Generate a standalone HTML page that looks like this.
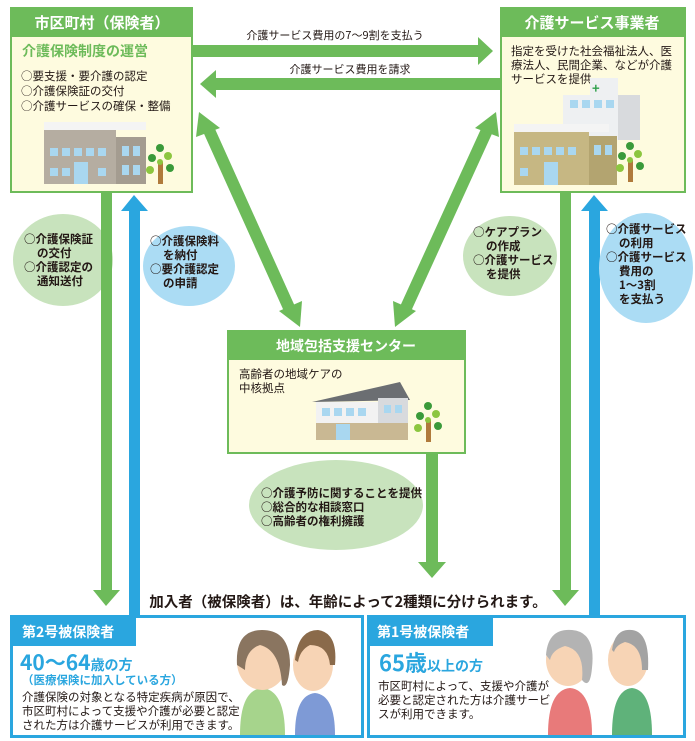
<!DOCTYPE html>
<html><head><meta charset="utf-8"><style>
html,body{margin:0;padding:0;background:#fff}
svg{display:block}
text{font-family:"Noto Sans CJK JP","Liberation Sans",sans-serif;fill:#231815}
.b{font-weight:bold}
</style></head><body>
<svg width="695" height="741" viewBox="0 0 695 741" xmlns="http://www.w3.org/2000/svg">
<defs>
<g id="tree">
<rect x="-2" y="0" width="5" height="22" fill="#b07a3c"/>
<circle cx="-8" cy="-4" r="4" fill="#3a9a3a"/><circle cx="8" cy="-6" r="4" fill="#8cc63f"/>
<circle cx="0" cy="-14" r="4" fill="#3a9a3a"/><circle cx="-10" cy="8" r="4" fill="#8cc63f"/>
<circle cx="10" cy="6" r="4" fill="#3a9a3a"/><circle cx="0" cy="0" r="3" fill="#8cc63f"/>
</g>
</defs>

<rect x="193" y="45" width="286" height="12" fill="#6dbb5a"/>
<polygon points="478,37 493,51 478,65" fill="#6dbb5a"/>
<rect x="215" y="78" width="286" height="12" fill="#6dbb5a"/>
<polygon points="216,70 200,84 216,98" fill="#6dbb5a"/>
<text x="335" y="39" font-size="11" text-anchor="middle">介護サービス費用の7～9割を支払う</text>
<text x="350" y="73" font-size="11" text-anchor="middle">介護サービス費用を請求</text>

<line x1="208" y1="128" x2="290" y2="310" stroke="#6dbb5a" stroke-width="12"/>
<polygon points="199,112 220,128 196,137" fill="#6dbb5a"/>
<polygon points="300,327 279,311 302,301" fill="#6dbb5a"/>
<line x1="488" y1="128" x2="405" y2="310" stroke="#6dbb5a" stroke-width="12"/>
<polygon points="496,112 499,137 475,128" fill="#6dbb5a"/>
<polygon points="395,327 393,301 416,311" fill="#6dbb5a"/>

<rect x="101" y="193" width="11" height="398" fill="#6dbb5a"/>
<polygon points="93,590 120,590 106,606" fill="#6dbb5a"/>
<rect x="129" y="210" width="11" height="408" fill="#2aa6df"/>
<polygon points="121,211 148,211 134,195" fill="#2aa6df"/>
<rect x="560" y="193" width="11" height="398" fill="#6dbb5a"/>
<polygon points="552,590 579,590 565,606" fill="#6dbb5a"/>
<rect x="589" y="210" width="11" height="408" fill="#2aa6df"/>
<polygon points="581,211 608,211 594,195" fill="#2aa6df"/>
<rect x="426" y="453" width="12" height="110" fill="#6dbb5a"/>
<polygon points="418,562 446,562 432,578" fill="#6dbb5a"/>

<ellipse cx="63" cy="260" rx="50" ry="46" fill="#c8e3bd"/>
<rect x="101" y="214" width="11" height="92" fill="#6dbb5a"/>
<text font-size="11.5" class="b"><tspan x="24" y="243">○介護保険証</tspan><tspan x="37" y="257">の交付</tspan><tspan x="24" y="271">○介護認定の</tspan><tspan x="37" y="285">通知送付</tspan></text>
<ellipse cx="189" cy="266" rx="46" ry="40" fill="#abdcf4"/>
<text font-size="11.5" class="b"><tspan x="150" y="245">○介護保険料</tspan><tspan x="163" y="259">を納付</tspan><tspan x="150" y="273">○要介護認定</tspan><tspan x="163" y="287">の申請</tspan></text>
<ellipse cx="510" cy="256" rx="47" ry="40" fill="#c8e3bd"/>
<text font-size="11.5" class="b"><tspan x="473" y="236">○ケアプラン</tspan><tspan x="486" y="250">の作成</tspan><tspan x="473" y="264">○介護サービス</tspan><tspan x="486" y="278">を提供</tspan></text>
<ellipse cx="646" cy="268" rx="47" ry="55" fill="#abdcf4"/>
<text font-size="11.5" class="b"><tspan x="606" y="233">○介護サービス</tspan><tspan x="619" y="247">の利用</tspan><tspan x="606" y="261">○介護サービス</tspan><tspan x="619" y="275">費用の</tspan><tspan x="619" y="289">1～3割</tspan><tspan x="619" y="303">を支払う</tspan></text>
<ellipse cx="336" cy="505" rx="87" ry="45" fill="#c8e3bd"/>
<rect x="426" y="470" width="12" height="70" fill="#6dbb5a"/>
<text font-size="11.5" class="b"><tspan x="261" y="497">○介護予防に関することを提供</tspan><tspan x="261" y="511">○総合的な相談窓口</tspan><tspan x="261" y="525">○高齢者の権利擁護</tspan></text>

<rect x="10" y="7" width="183" height="186" fill="#6dbb5a"/>
<rect x="12" y="37" width="179" height="154" fill="#fefbdf"/>
<text x="102" y="28" font-size="15" class="b" text-anchor="middle" style="fill:#fff">市区町村（保険者）</text>
<text x="22" y="56" font-size="14" class="b" style="fill:#6dbb5a">介護保険制度の運営</text>
<text font-size="11.5"><tspan x="21" y="80">○要支援・要介護の認定</tspan><tspan x="21" y="95">○介護保険証の交付</tspan><tspan x="21" y="110">○介護サービスの確保・整備</tspan></text>
<rect x="44" y="129" width="72" height="55" fill="#b5ada1"/>
<rect x="116" y="137" width="30" height="47" fill="#a49c90"/>
<rect x="44" y="122" width="102" height="8" fill="#f4f4f4"/>
<g fill="#a9d7f0"><rect x="50" y="148" width="8" height="8"/><rect x="62" y="148" width="8" height="8"/><rect x="74" y="148" width="8" height="8"/><rect x="86" y="148" width="8" height="8"/><rect x="98" y="148" width="8" height="8"/><rect x="50" y="168" width="8" height="8"/><rect x="62" y="168" width="8" height="8"/><rect x="98" y="168" width="8" height="8"/><rect x="74" y="162" width="14" height="22"/><rect x="122" y="146" width="7" height="10"/><rect x="133" y="146" width="7" height="10"/><rect x="122" y="165" width="7" height="10"/><rect x="133" y="165" width="7" height="10"/></g>
<use href="#tree" x="160" y="162"/>

<rect x="500" y="7" width="186" height="186" fill="#6dbb5a"/>
<rect x="502" y="37" width="182" height="154" fill="#fefbdf"/>
<text x="592" y="28" font-size="15" class="b" text-anchor="middle" style="fill:#fff">介護サービス事業者</text>
<text font-size="11.5"><tspan x="511" y="55">指定を受けた社会福祉法人、医</tspan><tspan x="511" y="69">療法人、民間企業、などが介護</tspan><tspan x="511" y="83">サービスを提供</tspan></text>
<rect x="563" y="95" width="55" height="45" fill="#eef0f2"/>
<rect x="618" y="95" width="22" height="45" fill="#d8dadd"/>
<rect x="590" y="78" width="28" height="18" fill="#eef0f2"/>
<text x="592" y="93" font-size="13" class="b" style="fill:#2ea04a">+</text>
<rect x="514" y="130" width="75" height="55" fill="#c6b783"/>
<rect x="589" y="136" width="28" height="49" fill="#b3a470"/>
<rect x="514" y="124" width="95" height="8" fill="#f4f4f4"/>
<g fill="#a9d7f0"><rect x="520" y="147" width="8" height="8"/><rect x="532" y="147" width="8" height="8"/><rect x="544" y="147" width="8" height="8"/><rect x="556" y="147" width="8" height="8"/><rect x="568" y="147" width="8" height="8"/><rect x="520" y="168" width="8" height="8"/><rect x="544" y="162" width="14" height="23"/><rect x="594" y="145" width="7" height="10"/><rect x="605" y="145" width="7" height="10"/><rect x="570" y="100" width="8" height="8"/><rect x="582" y="100" width="8" height="8"/><rect x="594" y="100" width="8" height="8"/><rect x="606" y="100" width="8" height="8"/></g>
<use href="#tree" x="630" y="160"/>

<rect x="227" y="330" width="239" height="124" fill="#6dbb5a"/>
<rect x="229" y="360" width="235" height="92" fill="#fefbdf"/>
<text x="346" y="351" font-size="14" class="b" text-anchor="middle" style="fill:#fff">地域包括支援センター</text>
<text font-size="11.5"><tspan x="239" y="378">高齢者の地域ケアの</tspan><tspan x="239" y="392">中核拠点</tspan></text>
<polygon points="312,402 400,382 410,400" fill="#6b6e72"/>
<rect x="316" y="402" width="62" height="38" fill="#f2f2f2"/>
<rect x="378" y="398" width="30" height="42" fill="#d8dadd"/>
<rect x="316" y="423" width="92" height="17" fill="#c9b893"/>
<g fill="#a9d7f0"><rect x="322" y="408" width="8" height="8"/><rect x="334" y="408" width="8" height="8"/><rect x="346" y="408" width="8" height="8"/><rect x="358" y="408" width="8" height="8"/><rect x="336" y="424" width="14" height="16"/><rect x="384" y="405" width="7" height="8"/><rect x="395" y="405" width="7" height="8"/></g>
<use href="#tree" x="428" y="420"/>

<text x="348" y="607" font-size="14.5" class="b" text-anchor="middle">加入者（被保険者）は、年齢によって2種類に分けられます。</text>

<rect x="11.5" y="616.5" width="351" height="120" fill="#fff" stroke="#2aa6df" stroke-width="3"/>
<rect x="10" y="615" width="126" height="31" fill="#2aa6df"/>
<text x="22" y="637" font-size="14" class="b" style="fill:#fff">第2号被保険者</text>
<text x="20" y="670" font-size="21" class="b" style="fill:#2aa6df">40～64<tspan font-size="14">歳の方</tspan></text>
<text x="22" y="684" font-size="11.5" class="b" style="fill:#2aa6df">（医療保険に加入している方）</text>
<text font-size="11.5"><tspan x="22" y="701">介護保険の対象となる特定疾病が原因で、</tspan><tspan x="22" y="715">市区町村によって支援や介護が必要と認定</tspan><tspan x="22" y="729">された方は介護サービスが利用できます。</tspan></text>
<path d="M240 735 Q240 690 262 688 Q285 690 285 735Z" fill="#a6d48c"/>
<ellipse cx="262" cy="662" rx="25" ry="28" fill="#f7d4b5"/>
<path d="M237 665 Q235 630 262 630 Q290 630 290 665 Q288 690 282 685 Q280 650 260 645 Q245 650 245 670Z" fill="#8a7560"/>
<path d="M295 735 Q295 695 315 693 Q335 695 335 735Z" fill="#7e9ad6"/>
<ellipse cx="313" cy="665" rx="20" ry="26" fill="#f7d4b5"/>
<path d="M295 660 Q298 630 318 630 Q338 633 335 665 L330 665 Q328 645 310 645 Q300 650 298 662Z" fill="#8a6a4a"/>

<rect x="368.5" y="616.5" width="316" height="120" fill="#fff" stroke="#2aa6df" stroke-width="3"/>
<rect x="367" y="615" width="126" height="31" fill="#2aa6df"/>
<text x="377" y="637" font-size="14" class="b" style="fill:#fff">第1号被保険者</text>
<text x="379" y="671" font-size="22" class="b" style="fill:#2aa6df">65歳<tspan font-size="14">以上の方</tspan></text>
<text font-size="11.5"><tspan x="378" y="690">市区町村によって、支援や介護が</tspan><tspan x="378" y="704">必要と認定された方は介護サービ</tspan><tspan x="378" y="718">スが利用できます。</tspan></text>
<path d="M548 735 Q548 690 570 688 Q592 690 592 735Z" fill="#e87a7a"/>
<ellipse cx="568" cy="660" rx="22" ry="26" fill="#f7d4b5"/>
<path d="M546 655 Q548 628 572 630 Q596 632 592 668 Q590 690 582 680 Q585 650 565 646 Q552 650 550 660Z" fill="#b3b3b3"/>
<path d="M612 735 Q612 690 632 688 Q652 690 652 735Z" fill="#5fb27a"/>
<ellipse cx="628" cy="660" rx="20" ry="26" fill="#f7d4b5"/>
<path d="M612 650 Q615 628 632 630 Q650 632 648 670 L642 670 Q642 645 625 642 Q616 645 614 652Z" fill="#a3a3a3"/>
</svg>
</body></html>
